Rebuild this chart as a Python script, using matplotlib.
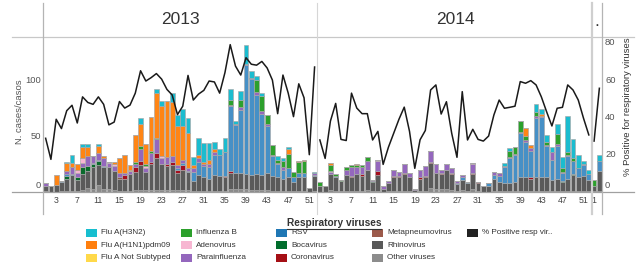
import matplotlib
matplotlib.use('Agg')
import matplotlib.pyplot as plt
import matplotlib.transforms as mtransforms
from matplotlib.lines import Line2D
from matplotlib.patches import Rectangle
import numpy as np

# ---------------- data ----------------
years = [2013] * 52 + [2014] * 52 + [2015] * 2
weeks = list(range(1, 53)) + list(range(1, 53)) + [1, 2]

virus_names = ["Other viruses", "Rhinovirus", "Metapneumovirus", "Coronavirus",
               "Bocavirus", "RSV", "Parainfluenza", "Adenovirus", "Influenza B",
               "Flu A Not Subtyped", "Flu A(H1N1)pdm09", "Flu A(H3N2)"]

# weekly counts, 2013 w1..w52 | 2014 w1..w52 | 2015 w1..w2
flu_h3n2 = [0,0,0,0,1,7,0,3,3,0,2,0,0,0,0,0,0,0,5,0,0,4,4,0,8,10,15,13,7,15,17,15,7,5,12,10,2,8,17,6,4,2,0,0,3,2,2,0,0,0,0,1,
            0,0,0,0,0,0,0,0,0,0,0,0,0,0,0,0,0,0,0,0,0,0,0,0,0,0,0,0,0,0,0,0,0,0,0,3,2,0,0,0,0,8,4,6,4,9,10,32,17,12,3,4,
            0,5]
flu_h1n1 = [0,0,9,0,7,4,5,10,8,0,6,2,0,2,13,16,4,24,20,18,30,40,45,50,48,35,30,32,3,3,2,4,2,0,0,0,0,0,0,0,0,0,0,0,0,0,4,0,1,1,0,0,
            0,0,2,0,0,0,0,1,0,0,0,0,0,0,0,0,0,0,0,0,0,0,0,0,0,0,0,0,0,0,0,0,0,0,0,0,0,0,0,7,3,0,2,0,0,0,0,0,0,0,0,0,
            0,0]
flu_notsub = [0,0,0,0,0,0,0,0,0,0,0,0,0,0,0,0,1,0,0,0,0,0,0,0,0,0,0,0,0,0,0,0,0,0,0,0,0,0,0,0,0,0,0,0,0,0,0,0,0,0,0,0,
              0,0,0,0,0,0,0,0,0,0,0,0,0,0,0,0,0,0,0,0,0,0,0,0,0,0,0,0,0,0,0,0,0,0,0,0,0,0,0,0,0,0,0,0,0,0,0,0,0,0,0,0,
              0,0]
flu_b = [0,0,0,0,0,0,0,0,0,0,0,0,0,0,0,0,0,2,3,2,2,1,0,0,0,0,0,0,0,0,0,0,0,0,0,4,0,6,0,0,11,14,8,9,3,6,13,5,10,11,0,0,
         4,0,5,2,1,2,2,2,2,3,0,0,0,0,0,0,0,0,0,0,0,0,0,0,0,0,0,0,0,0,0,0,0,0,0,0,6,6,9,4,0,3,0,3,0,9,3,3,2,0,0,0,
         6,0]
adeno = [0,0,0,0,0,0,3,4,0,0,0,0,1,2,0,0,0,0,0,2,0,0,2,0,0,0,0,0,0,0,0,0,0,0,0,0,0,0,0,0,0,0,0,0,0,0,0,0,0,0,0,0,
         0,0,1,0,0,0,0,0,0,0,0,1,0,0,0,0,0,0,0,0,0,0,0,0,0,0,0,0,0,1,0,0,0,0,0,0,0,0,0,0,0,0,0,0,0,0,0,0,0,0,0,0,
         0,0]
parainf = [3,0,0,0,3,6,4,4,9,6,6,7,4,4,4,2,3,3,10,3,8,12,5,6,5,3,3,2,3,3,2,3,3,0,0,1,1,3,1,1,2,2,2,1,1,2,0,0,0,0,0,2,
           0,0,2,0,0,5,8,6,6,8,1,9,2,2,6,4,8,4,1,7,9,10,8,3,5,4,2,2,0,8,0,0,0,3,3,1,1,1,1,1,2,2,1,1,7,2,1,1,0,0,1,0,
           0,0]
rsv = [0,0,0,1,2,1,0,0,0,1,1,1,0,0,0,0,0,0,0,0,0,0,0,0,0,1,2,1,8,12,10,10,18,19,22,58,43,56,97,86,71,55,42,18,12,8,8,4,4,4,0,1,
       0,0,0,1,0,0,0,0,0,0,0,0,0,0,0,0,0,0,0,0,0,0,0,0,0,0,1,2,1,0,0,0,3,3,5,14,22,24,40,32,24,53,54,28,18,29,7,20,12,8,10,5,
       0,9]
boca = [0,0,0,0,2,0,2,6,4,3,4,0,0,0,0,0,0,0,0,0,0,0,0,0,0,0,0,0,0,0,0,0,0,0,0,0,0,0,0,0,0,0,0,0,0,0,0,0,0,0,0,0,
        0,0,0,0,0,0,0,0,0,0,1,0,0,0,0,0,0,0,0,0,0,0,0,0,0,0,0,0,0,0,0,0,0,0,0,0,0,0,0,0,0,0,0,0,0,0,1,0,1,0,0,0,
        0,0]
corona = [0,0,0,0,0,0,0,0,0,0,0,0,0,0,0,3,0,4,4,0,2,5,0,2,3,3,4,0,0,0,0,0,0,0,1,2,0,0,0,0,0,0,0,0,0,0,0,0,0,0,0,0,
          0,0,0,0,0,0,1,0,2,0,0,4,0,0,1,1,1,0,0,1,1,1,0,1,0,1,0,0,0,1,1,0,0,0,0,0,0,0,0,0,1,0,0,0,0,0,0,0,0,0,0,0,
          0,0]
metapneumo = [0,0,0,0,0,0,0,0,0,0,0,0,0,0,1,0,0,0,0,0,0,0,0,0,0,0,0,0,0,0,0,0,0,0,0,0,0,0,0,0,0,0,0,0,0,0,0,0,0,0,0,0,
              0,0,0,0,0,0,0,0,0,0,0,0,0,0,0,0,0,0,0,0,0,0,0,0,0,0,0,0,0,0,0,0,0,0,0,0,0,0,0,0,0,0,0,0,0,0,0,0,0,0,0,0,
              0,0]
rhino = [4,5,6,8,11,14,10,14,15,19,18,19,19,17,11,11,15,16,22,16,23,28,23,21,22,15,18,16,9,14,12,11,14,13,12,14,14,14,13,13,14,13,15,13,12,11,12,8,12,12,4,13,
         5,5,14,12,9,14,12,15,13,18,8,14,3,7,12,12,15,12,2,11,12,22,14,13,17,14,6,9,7,13,7,5,5,11,8,7,7,8,12,12,11,12,12,12,10,11,8,11,14,12,13,10,
         4,18]
other = [1,0,0,1,1,1,1,2,4,3,6,3,3,2,1,1,1,2,2,2,2,2,2,2,2,2,2,2,1,1,1,1,1,1,1,3,3,3,3,2,2,2,2,1,1,1,1,1,1,1,0,1,
         0,0,2,1,1,1,1,1,1,2,1,1,0,1,1,1,1,1,0,1,1,4,3,3,3,2,1,2,1,3,1,0,0,1,1,1,1,1,1,1,1,1,1,1,1,1,1,1,1,1,1,1,
         1,1]

pct_2013 = [28.8,17.5,39,34,43.6,46.5,37,51,48,47,51,47,36,37.5,48.5,45,46.6,53,65,59.5,61.3,63.5,60.5,55,52,41.5,
            46,62.5,49.3,52.5,54.5,59.5,59,53,64,79,67.5,62.7,72,68.5,68,70,66.5,60,42,62.7,53,40.4,58,50.5,20,67]
pct_2014 = [27.9,18,38,47.5,28.2,27.6,53,45,42,42,27.9,32.5,14.8,24,31.5,39,45.5,32.5,12.7,28,33,54.7,57.4,41.8,48.4,31.5,
            18.6,53.8,27.9,33.6,28.2,27.3,30,41.3,49.3,44.9,45.4,46,59.2,58.3,59.7,57.4,51,43,35.4,44.9,45.4,57.4,54.7,49.3,39.5,30.6]
pct_2015 = [27.3,55.6]

week_ticks = [3, 7, 11, 15, 19, 23, 27, 31, 35, 39, 43, 47, 51]
year_labels = ["2013", "2014", "."]

series = [other, rhino, metapneumo, corona, boca, rsv, parainf, adeno, flu_b, flu_notsub, flu_h1n1, flu_h3n2]
bar_colors = ["#8a8a8a", "#5a5a5a", "#8c564b", "#a50f1e", "#0a6a2c", "#4690c6", "#9467bd", "#f7b6d2",
              "#2ca02c", "#ffd84d", "#ff8515", "#1bbccf"]
legend_colors = {"Flu A(H3N2)": "#17becf", "Flu A(H1N1)pdm09": "#ff7f0e", "Flu A Not Subtyped": "#ffd94a",
                 "Influenza B": "#2ca02c", "Adenovirus": "#f7b6d2", "Parainfluenza": "#9467bd",
                 "RSV": "#1f77b4", "Bocavirus": "#006d2c", "Coronavirus": "#a50f15",
                 "Metapneumovirus": "#9c5a4b", "Rhinovirus": "#595959", "Other viruses": "#8c8c8c",
                 "% Positive resp vir..": "#222222"}
legend_cols = [["Flu A(H3N2)", "Flu A(H1N1)pdm09", "Flu A Not Subtyped"],
               ["Influenza B", "Adenovirus", "Parainfluenza"],
               ["RSV", "Bocavirus", "Coronavirus"],
               ["Metapneumovirus", "Rhinovirus", "Other viruses"],
               ["% Positive resp vir.."]]

# ---------------- figure ----------------
W, H = 637, 277
fig = plt.figure(figsize=(W / 100, H / 100), dpi=100)
fig.patch.set_facecolor("white")
FONT = ["Liberation Sans", "DejaVu Sans"]
NARROW = ["Liberation Sans Narrow", "Liberation Sans", "DejaVu Sans"]


def fx(px):
    return px / W


def fy(py):
    return 1 - py / H


ax = fig.add_axes([fx(43), fy(192), fx(602) - fx(43), fy(37) - fy(192)])
ax2 = ax.twinx()

# x positions: one slot per week, continuous over the panes
year_start = {2013: 0, 2014: 52, 2015: 104}
xpos = np.array([year_start[y] + w - 1 for y, w in zip(years, weeks)])

bottom = np.zeros(len(xpos))
for vals, col in zip(series, bar_colors):
    v = np.array(vals, dtype=float)
    ax.bar(xpos, v, bottom=bottom, width=0.9, color=col, edgecolor="#a8a8a8",
           linewidth=0.45, zorder=2)
    bottom += v

for yr, pct in zip([2013, 2014, 2015], [pct_2013, pct_2014, pct_2015]):
    xs = year_start[yr] + np.arange(len(pct))
    ax2.plot(xs, pct, color="#1a1a1a", lw=1.1, zorder=5)

ax.set_xlim(-0.5, 105.5)
ax.set_ylim(0, 138.4)
ax2.set_ylim(0, 83.1)

for a in (ax, ax2):
    for s in a.spines.values():
        s.set_visible(False)
    a.tick_params(axis="y", length=0, labelleft=False, labelright=False)
ax.patch.set_alpha(0)

# week tick labels
tick_pos, tick_lab = [], []
for yr in [2013, 2014]:
    for w in week_ticks:
        tick_pos.append(year_start[yr] + w - 1)
        tick_lab.append(str(w))
tick_pos.append(year_start[2015])
tick_lab.append("1")
ax.set_xticks(tick_pos)
ax.set_xticklabels(tick_lab, fontsize=6.3, color="#444444", family=NARROW)
ax.tick_params(axis="x", length=0, pad=3)

# y tick labels (left / right), placed through the axes' data scales
for v in [0, 50, 100]:
    dy = 6 if v == 0 else 0
    tr = ax.get_yaxis_transform() + mtransforms.ScaledTranslation(-2 / 100, dy / 100, fig.dpi_scale_trans)
    ax.text(0, v, str(v), transform=tr, ha="right", va="center", fontsize=6.8,
            color="#555555", family=NARROW)
for v in [0, 20, 40, 60, 80]:
    dy = 6 if v == 0 else 0
    tr = ax2.get_yaxis_transform() + mtransforms.ScaledTranslation(3 / 100, dy / 100, fig.dpi_scale_trans)
    ax2.text(1, v, str(v), transform=tr, ha="left", va="center", fontsize=6.8,
             color="#555555", family=NARROW)

# axis titles
fig.text(fx(20), fy(112), "N. cases/casos", rotation=90, ha="center", va="center",
         fontsize=6.8, color="#555555", family=FONT)
fig.text(fx(628), fy(107), "% Positive for respiratory viruses", rotation=90, ha="center",
         va="center", fontsize=6.8, color="#333333", family=FONT)

# year headers
for lab, xc, yc in zip(year_labels, [180, 455, 597], [19, 19, 21]):
    fig.text(fx(xc), fy(yc), lab, ha="center", va="center", fontsize=12.5,
             color="#333333", family=NARROW)

# pane lines
def hline(y, x0, x1, color, lw):
    fig.add_artist(Line2D([fx(x0), fx(x1)], [fy(y), fy(y)], color=color, lw=lw, zorder=10))


def vline(x, y0, y1, color, lw):
    fig.add_artist(Line2D([fx(x), fx(x)], [fy(y0), fy(y1)], color=color, lw=lw, zorder=10))


hline(37, 12, 634, "#c8c8c8", 0.9)
hline(192, 12, 634, "#a0a0a0", 0.9)
vline(43, 3, 214, "#b4b4b4", 0.9)
vline(317.2, 3, 214, "#d6d6d6", 0.8)
vline(591.8, 3, 214, "#cfcfcf", 1.6)
vline(602.3, 3, 214, "#b4b4b4", 0.9)

# legend
title = fig.text(fx(334), fy(223), "Respiratory viruses", ha="center", va="center",
                 fontsize=7.3, fontweight="bold", color="#333333", family=FONT)
fig.canvas.draw()
bb = title.get_window_extent()
fig.add_artist(Line2D([bb.x0 / W, bb.x1 / W], [(bb.y0 - 0.5) / H, (bb.y0 - 0.5) / H],
                      color="#333333", lw=0.8))

col_x = [86, 181, 276, 372, 467]
row_y = [233, 245.3, 257.5]
for cx, names in zip(col_x, legend_cols):
    for ry, name in zip(row_y, names):
        fig.add_artist(Rectangle((fx(cx), fy(ry + 4)), 11 / W, 8 / H,
                                 facecolor=legend_colors[name], edgecolor="none"))
        fig.text(fx(cx + 15), fy(ry), name, ha="left", va="center", fontsize=5.9,
                 color="#333333", family=FONT)

fig.savefig("out.png", dpi=100)
